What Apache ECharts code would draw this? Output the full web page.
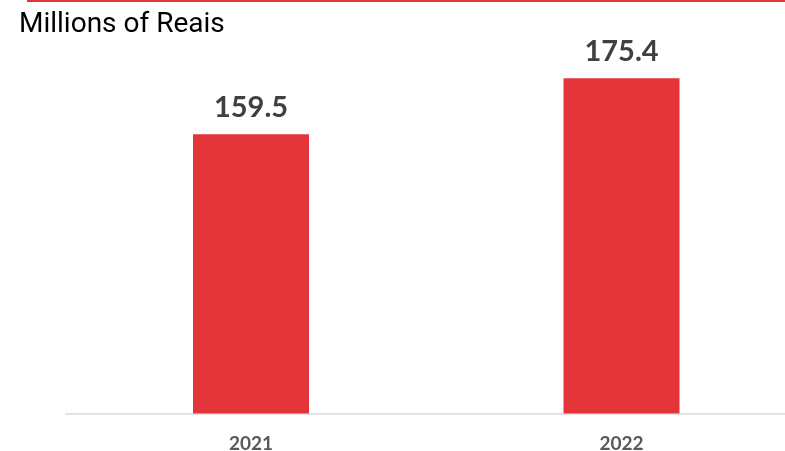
<!DOCTYPE html>
<html>
<head>
<meta charset="utf-8">
<style>
  html, body { margin: 0; padding: 0; background: #ffffff; }
  #chart { width: 785px; height: 451px; }
</style>
<script src="https://cdn.jsdelivr.net/npm/echarts@6/dist/echarts.min.js"></script>
</head>
<body>
<div id="chart"></div>
<script>
// Annual figures, millions of reais
const years = ['2021', '2022'];
const values = [159.5, 175.4];
const unitTitle = 'Millions of Reais';

const chart = echarts.init(document.getElementById('chart'), null, { renderer: 'canvas' });

chart.setOption({
  animation: false,
  backgroundColor: '#ffffff',
  graphic: [
    {
      type: 'rect',
      left: 27, top: 0,
      shape: { width: 758, height: 2 },
      style: { fill: '#e3343a' }
    },
    {
      type: 'text',
      left: 19, top: 11,
      style: {
        text: unitTitle,
        font: '28px Roboto',
        fill: '#000000'
      }
    }
  ],
  // the plot runs past the right edge so the second bar sits off-centre
  grid: {
    left: 65.75, width: 741, top: 27, bottom: 37.5,
    containLabel: false,
    outerBoundsMode: 'none'
  },
  xAxis: {
    type: 'category',
    data: years,
    axisLine: { show: true, lineStyle: { color: '#d9d9d9', width: 1.5 } },
    axisTick: { show: false },
    axisLabel: {
      margin: 21,
      color: '#595959',
      fontFamily: 'Lato',
      fontWeight: 'bold',
      fontSize: 19
    }
  },
  yAxis: {
    type: 'value',
    min: 80,
    max: 190,
    show: false,
    splitLine: { show: false }
  },
  series: [
    {
      type: 'bar',
      data: values,
      barWidth: 116,
      itemStyle: { color: '#e3343a' },
      label: {
        show: true,
        position: 'top',
        distance: 12,
        formatter: p => p.value.toFixed(1),
        color: '#404040',
        fontFamily: 'Lato',
        fontWeight: 'bold',
        fontSize: 29
      }
    }
  ]
});
</script>
</body>
</html>
